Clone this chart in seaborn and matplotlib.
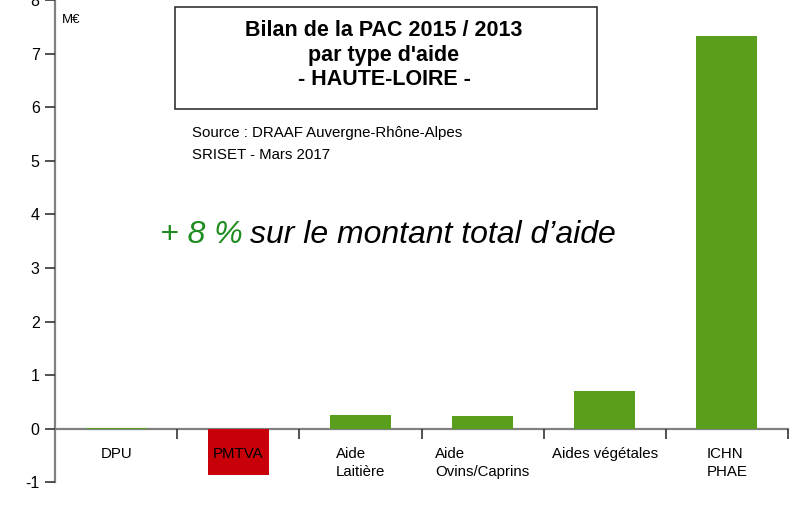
import matplotlib
matplotlib.use('Agg')
import matplotlib.pyplot as plt
from matplotlib.patches import Rectangle
import seaborn as sns
import pandas as pd

# Values (M€, difference 2015 vs 2013)
categories = ['DPU', 'PMTVA', 'Aide\nLaitière', 'Aide\nOvins/Caprins', 'Aides végétales', 'ICHN\nPHAE']
values = [0.02, -0.86, 0.26, 0.24, 0.70, 7.32]
bar_colors = ['#5A9E1E', '#C8000A', '#5A9E1E', '#5A9E1E', '#5A9E1E', '#5A9E1E']
y_ticks = [-1, 0, 1, 2, 3, 4, 5, 6, 7, 8]

df = pd.DataFrame({'type': categories, 'montant': values})

sns.set_style('white')
plt.rcParams['font.family'] = ['Liberation Sans', 'DejaVu Sans']
plt.rcParams['axes.unicode_minus'] = False
plt.rcParams['text.color'] = 'black'
plt.rcParams['xtick.labelcolor'] = 'black'
plt.rcParams['ytick.labelcolor'] = 'black'

W, H = 811, 507
fig = plt.figure(figsize=(W / 100, H / 100), dpi=100)
ax = fig.add_axes([55 / W, 24.7 / H, (788 - 55) / W, 482.4 / H])

sns.barplot(data=df, x='type', y='montant', hue='type', palette=bar_colors,
            legend=False, width=0.5, saturation=1, linewidth=0, ax=ax)

ax.set_ylim(-1, 8)
ax.set_xlim(-0.5, len(categories) - 0.5)
ax.set_yticks(y_ticks)
ax.set_xlabel('')
ax.set_ylabel('')
ax.set_axisbelow(False)  # labels drawn over the bars (PMTVA)

# spines: only left axis and a zero line
for s in ['top', 'right']:
    ax.spines[s].set_visible(False)
ax.spines['left'].set_color('#808080')
ax.spines['left'].set_linewidth(1.6)
ax.spines['bottom'].set_position(('data', 0))
ax.spines['bottom'].set_color('#808080')
ax.spines['bottom'].set_linewidth(1.6)
ax.spines['bottom'].set_zorder(0.5)

ax.tick_params(axis='y', direction='out', length=7, width=1.2, color='#333333',
               labelsize=11.5, pad=4, left=True)
# category labels at centres, tick marks at boundaries
ax.set_xticks(range(len(categories)))
ax.set_xticklabels(categories, fontsize=10.8, multialignment='left', linespacing=1.4)
ax.tick_params(axis='x', which='major', length=0, pad=13)
ax.set_xticks([i + 0.5 for i in range(len(categories))], minor=True)
ax.tick_params(axis='x', which='minor', direction='out', length=7, width=1.2, color='#333333', bottom=True)

# unit
fig.text(62 / W, 1 - 20 / H, 'M€', fontsize=9.5, ha='left', va='center')

# title box
fig.patches.append(Rectangle((175 / W, 1 - 109 / H), 422 / W, 102 / H, transform=fig.transFigure,
                             fill=False, edgecolor='#333333', linewidth=1.2))
fig.text(384 / W, 1 - 55 / H, "Bilan de la PAC 2015 / 2013\npar type d'aide\n- HAUTE-LOIRE -",
         fontsize=15.5, fontweight='bold', ha='center', va='center', linespacing=1.2)

# source
fig.text(192 / W, 1 - 133 / H, 'Source : DRAAF Auvergne-Rhône-Alpes', fontsize=10.8, ha='left', va='center')
fig.text(192 / W, 1 - 155 / H, 'SRISET - Mars 2017', fontsize=10.8, ha='left', va='center')

# annotation
fig.text(160 / W, 1 - 243 / H, '+ 8 %', fontsize=23, style='italic', color='#1E8C1E',
         ha='left', va='baseline')
fig.text(250 / W, 1 - 243 / H, 'sur le montant total d’aide', fontsize=23, style='italic',
         color='black', ha='left', va='baseline')

fig.savefig('out.png', dpi=100)
